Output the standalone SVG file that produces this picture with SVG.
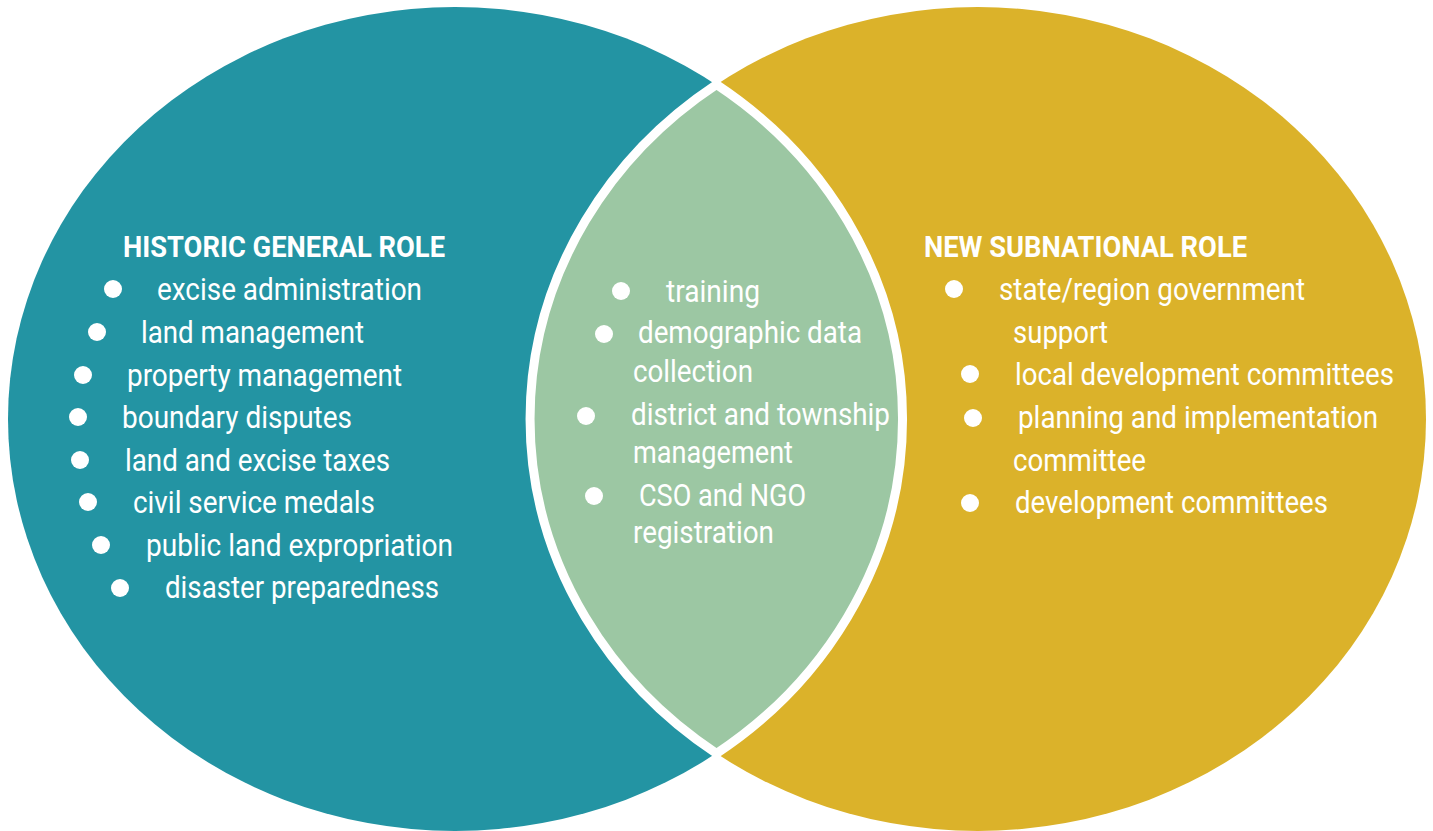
<svg xmlns="http://www.w3.org/2000/svg" width="1433" height="831" viewBox="0 0 1433 831">
<style>
.t{font-family:Roboto,"Liberation Sans",sans-serif;font-size:32px;fill:#ffffff}
.h{font-weight:bold;font-size:30px}
.b{fill:#ffffff}
</style>
<rect width="1433" height="831" fill="#ffffff"/>
<g id="left-circle">
<ellipse cx="455" cy="419" rx="447" ry="412" fill="#2394a3"/>
</g>
<g id="right-circle">
<ellipse cx="978" cy="419" rx="448" ry="412" fill="#dbb22a"/>
</g>
<g id="overlap">
<path d="M716.5 84.5 A447 412 0 0 1 716.5 753.5 A448 412 0 0 1 716.5 84.5 Z" fill="#9cc7a3" stroke="#ffffff" stroke-width="9" stroke-linejoin="miter"/>
</g>
<g id="left-text">
<text class="t h" x="123" y="257" textLength="322" lengthAdjust="spacingAndGlyphs">HISTORIC GENERAL ROLE</text>
<circle class="b" cx="113" cy="289" r="9"/>
<text class="t" x="157" y="300" textLength="265" lengthAdjust="spacingAndGlyphs">excise administration</text>
<circle class="b" cx="97" cy="332" r="9"/>
<text class="t" x="141" y="343" textLength="223" lengthAdjust="spacingAndGlyphs">land management</text>
<circle class="b" cx="83" cy="375" r="9"/>
<text class="t" x="127" y="386" textLength="275" lengthAdjust="spacingAndGlyphs">property management</text>
<circle class="b" cx="78" cy="417" r="9"/>
<text class="t" x="122" y="428" textLength="230" lengthAdjust="spacingAndGlyphs">boundary disputes</text>
<circle class="b" cx="80" cy="460" r="9"/>
<text class="t" x="125" y="471" textLength="265" lengthAdjust="spacingAndGlyphs">land and excise taxes</text>
<circle class="b" cx="88" cy="502" r="9"/>
<text class="t" x="133" y="513" textLength="242" lengthAdjust="spacingAndGlyphs">civil service medals</text>
<circle class="b" cx="101" cy="545" r="9"/>
<text class="t" x="146" y="556" textLength="307" lengthAdjust="spacingAndGlyphs">public land expropriation</text>
<circle class="b" cx="120" cy="588" r="9"/>
<text class="t" x="165" y="598" textLength="274" lengthAdjust="spacingAndGlyphs">disaster preparedness</text>
</g>
<g id="middle-text">
<circle class="b" cx="621" cy="291" r="9"/>
<text class="t" x="666" y="302" textLength="94" lengthAdjust="spacingAndGlyphs">training</text>
<circle class="b" cx="604" cy="334" r="9"/>
<text class="t" x="638" y="343" textLength="224" lengthAdjust="spacingAndGlyphs">demographic data</text>
<text class="t" x="633" y="382" textLength="120" lengthAdjust="spacingAndGlyphs">collection</text>
<circle class="b" cx="586" cy="416" r="9"/>
<text class="t" x="631" y="425" textLength="259" lengthAdjust="spacingAndGlyphs">district and township</text>
<text class="t" x="633" y="463" textLength="160" lengthAdjust="spacingAndGlyphs">management</text>
<circle class="b" cx="594" cy="496" r="9"/>
<text class="t" x="639" y="506" textLength="167" lengthAdjust="spacingAndGlyphs">CSO and NGO</text>
<text class="t" x="633" y="543" textLength="141" lengthAdjust="spacingAndGlyphs">registration</text>
</g>
<g id="right-text">
<text class="t h" x="924" y="257" textLength="323" lengthAdjust="spacingAndGlyphs">NEW SUBNATIONAL ROLE</text>
<circle class="b" cx="954" cy="289" r="9"/>
<text class="t" x="999" y="300" textLength="306" lengthAdjust="spacingAndGlyphs">state/region government</text>
<text class="t" x="1013" y="343" textLength="95" lengthAdjust="spacingAndGlyphs">support</text>
<circle class="b" cx="970" cy="374" r="9"/>
<text class="t" x="1015" y="385" textLength="379" lengthAdjust="spacingAndGlyphs">local development committees</text>
<circle class="b" cx="973" cy="418" r="9"/>
<text class="t" x="1018" y="428" textLength="360" lengthAdjust="spacingAndGlyphs">planning and implementation</text>
<text class="t" x="1013" y="471" textLength="133" lengthAdjust="spacingAndGlyphs">committee</text>
<circle class="b" cx="970" cy="503" r="9"/>
<text class="t" x="1015" y="513" textLength="313" lengthAdjust="spacingAndGlyphs">development committees</text>
</g>
<g id="connectors"></g>
</svg>
